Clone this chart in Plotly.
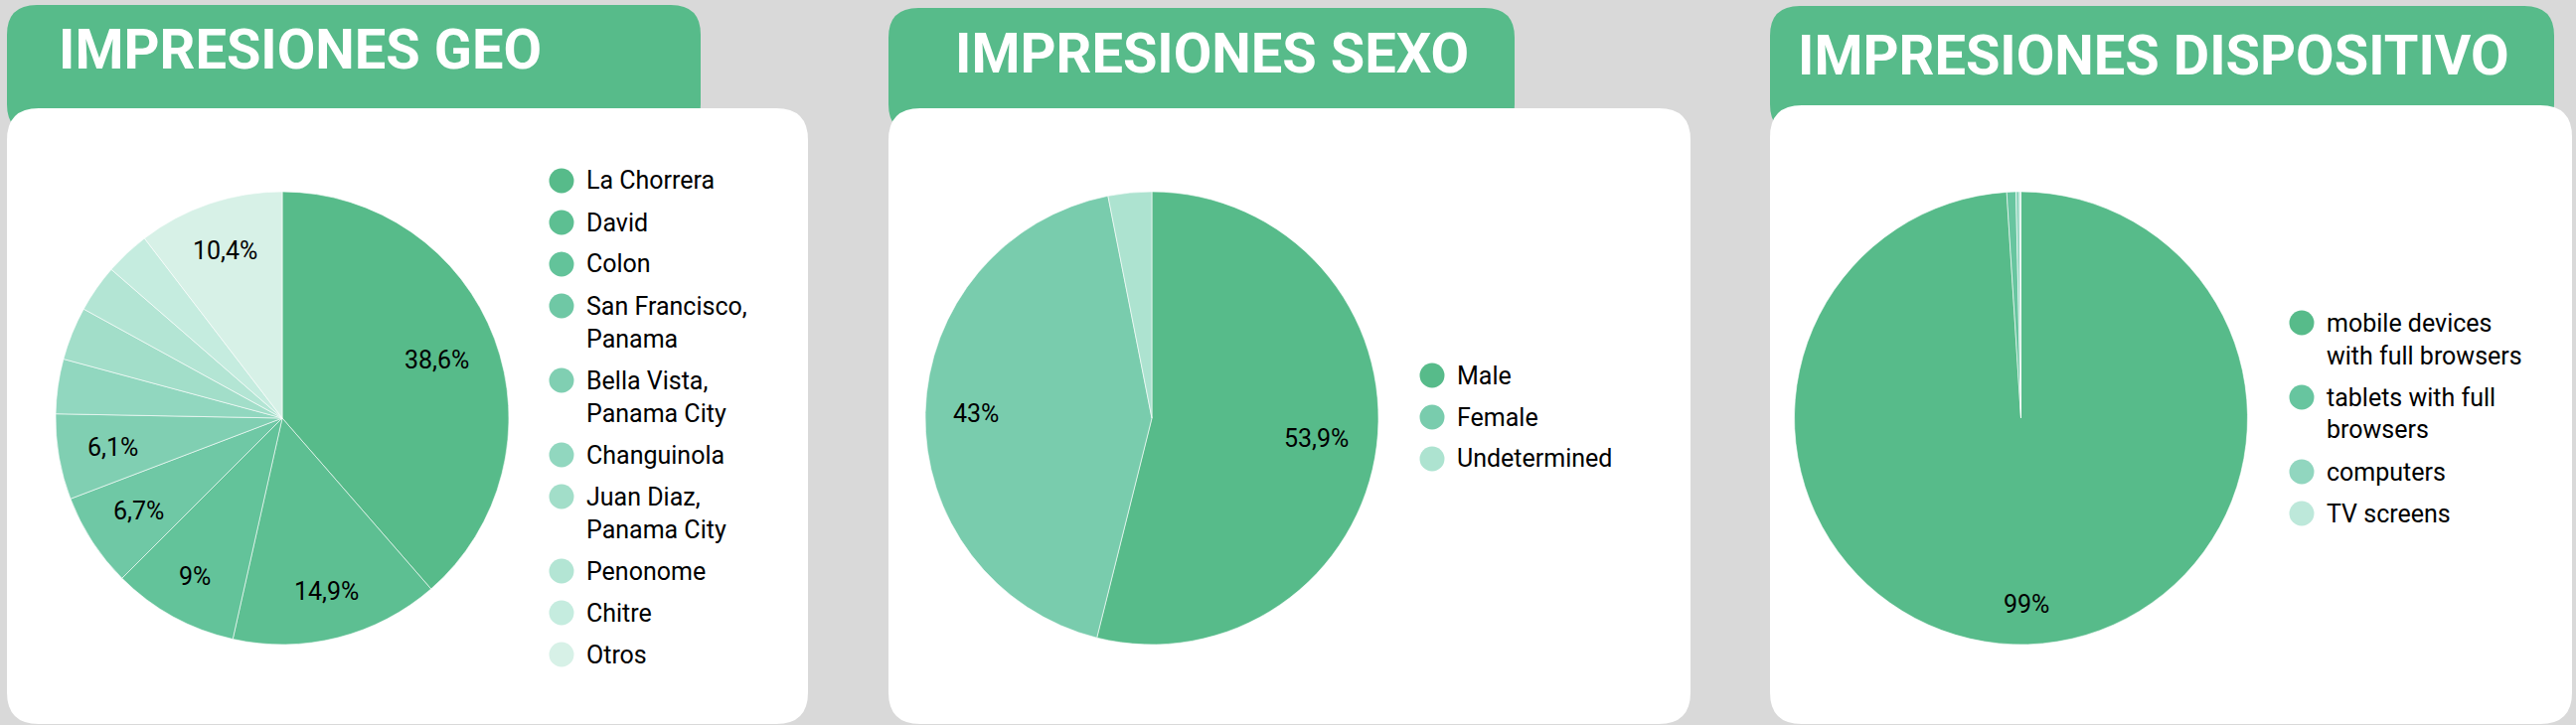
import math
import plotly.graph_objects as go

W, H = 2592, 730

# ---------------- data ----------------
geo_labels = ["La Chorrera", "David", "Colon", "San Francisco, Panama",
              "Bella Vista, Panama City", "Changuinola", "Juan Diaz, Panama City",
              "Penonome", "Chitre", "Otros"]
geo_legend = ["La Chorrera", "David", "Colon", "San Francisco,<br>Panama",
              "Bella Vista,<br>Panama City", "Changuinola", "Juan Diaz,<br>Panama City",
              "Penonome", "Chitre", "Otros"]
geo_values = [38.6, 14.9, 9.0, 6.7, 6.1, 3.9, 3.8, 3.4, 3.2, 10.4]

sexo_labels = ["Male", "Female", "Undetermined"]
sexo_legend = ["Male", "Female", "Undetermined"]
sexo_values = [53.9, 43.0, 3.1]

disp_labels = ["mobile devices with full browsers", "tablets with full browsers",
               "computers", "TV screens"]
disp_legend = ["mobile devices<br>with full browsers", "tablets with full<br>browsers",
               "computers", "TV screens"]
disp_values = [99.0, 0.65, 0.25, 0.1]

titles = ["IMPRESIONES GEO", "IMPRESIONES SEXO", "IMPRESIONES DISPOSITIVO"]

# ---------------- styles ----------------
geo_colors = ["#57bb8a", "#5dbf92", "#63c39a", "#6fc8a5", "#80cfb2",
              "#91d7bf", "#a2dec9", "#b3e5d4", "#c5ecdf", "#d7f1e7"]
sexo_colors = ["#57bb8a", "#79ccad", "#ade3d0"]
disp_colors = ["#57bb8a", "#67c59f", "#91d6bf", "#bde8da"]

BG = "#d9d9d9"
GREEN = "#57bb8a"
FONT = "Roboto"
LABEL_SIZE = 25
CHAR_W = {",": 0.196, "%": 0.733}


def px(x):
    return x / W


def py(y):
    return 1 - y / H


def rrect(x0, y0, x1, y1, r):
    X0, X1 = px(x0), px(x1)
    Y0, Y1 = py(y0), py(y1)
    rx, ry = r / W, r / H
    return (f"M{X0+rx},{Y0} L{X1-rx},{Y0} Q{X1},{Y0} {X1},{Y0-ry} "
            f"L{X1},{Y1+ry} Q{X1},{Y1} {X1-rx},{Y1} "
            f"L{X0+rx},{Y1} Q{X0},{Y1} {X0},{Y1+ry} "
            f"L{X0},{Y0-ry} Q{X0},{Y0} {X0+rx},{Y0} Z")


def pct_text(values, threshold=5.0):
    tot = sum(values)
    out = []
    for v in values:
        p = v / tot * 100
        if p < threshold:
            out.append("")
        else:
            s = f"{p:.1f}".rstrip("0").rstrip(".").replace(".", ",")
            out.append(s + "%")
    return out


panels = [
    dict(labels=geo_labels, legend=geo_legend, values=geo_values, colors=geo_colors,
         header=(7, 5, 705, 135), card=(7, 109, 813, 729), title_xy=(302, 50),
         cx=284, cy=421, leg_x=565, leg_y=182),
    dict(labels=sexo_labels, legend=sexo_legend, values=sexo_values, colors=sexo_colors,
         header=(894, 8, 1524, 135), card=(894, 109, 1701, 729), title_xy=(1219, 54),
         cx=1159, cy=421, leg_x=1441, leg_y=378),
    dict(labels=disp_labels, legend=disp_legend, values=disp_values, colors=disp_colors,
         header=(1781, 6, 2570, 135), card=(1781, 106, 2588, 729), title_xy=(2167, 56),
         cx=2033.5, cy=421, leg_x=2316, leg_y=325),
]

R = 228
fig = go.Figure()
shapes = []
annotations = []

for i, p in enumerate(panels):
    hx0, hy0, hx1, hy1 = p["header"]
    shapes.append(dict(type="path", path=rrect(hx0, hy0, hx1, hy1, 30), xref="paper", yref="paper",
                       fillcolor=GREEN, line=dict(width=0), layer="below"))
    cx0, cy0, cx1, cy1 = p["card"]
    shapes.append(dict(type="path", path=rrect(cx0, cy0, cx1, cy1, 32), xref="paper", yref="paper",
                       fillcolor="white", line=dict(width=0), layer="below"))
    tx, ty = p["title_xy"]
    annotations.append(dict(text=titles[i], x=px(tx), y=py(ty), xref="paper", yref="paper",
                            xanchor="center", yanchor="middle", showarrow=False,
                            font=dict(family=FONT, size=56, color="white", weight="bold")))

    texts = pct_text(p["values"])
    fig.add_trace(go.Pie(
        labels=p["labels"], values=p["values"], sort=False, direction="clockwise", rotation=0,
        marker=dict(colors=p["colors"], line=dict(color="white", width=0.6)),
        textinfo="none",
        domain=dict(x=[px(p["cx"] - R), px(p["cx"] + R)], y=[py(p["cy"] + R), py(p["cy"] - R)]),
        showlegend=False, hovertext=texts, hoverinfo="label+percent",
    ))

    # slice labels: placed along each slice's bisector, text box kept inside 0.88R
    tot = sum(p["values"])
    cum = 0.0
    for v, t in zip(p["values"], texts):
        mid = (cum + v / 2) / tot * 2 * math.pi
        cum += v
        if not t:
            continue
        hw = sum(CHAR_W.get(c, 0.562) for c in t) * LABEL_SIZE / 2
        hh = 0.5 * LABEL_SIZE
        s, c = math.sin(mid), math.cos(mid)
        d = 0.88 * R - (hw * abs(s) + hh * abs(c))
        lx = p["cx"] + d * s
        ly = p["cy"] - d * c
        annotations.append(dict(text=t, x=px(lx), y=py(ly), xref="paper", yref="paper",
                                xanchor="center", yanchor="middle", showarrow=False,
                                font=dict(family=FONT, size=LABEL_SIZE, color="black")))

    # legend
    y = p["leg_y"]
    for lab, col in zip(p["legend"], p["colors"]):
        r = 12.5
        shapes.append(dict(type="circle", xref="paper", yref="paper",
                           x0=px(p["leg_x"] - r), x1=px(p["leg_x"] + r),
                           y0=py(y + r), y1=py(y - r),
                           fillcolor=col, line=dict(width=0), layer="above"))
        lines = lab.split("<br>")
        for j, ln in enumerate(lines):
            annotations.append(dict(text=ln, x=px(p["leg_x"] + 23), y=py(y + j * 33),
                                    xref="paper", yref="paper", xanchor="left", yanchor="middle",
                                    showarrow=False,
                                    font=dict(family=FONT, size=25, color="#000000")))
        y += (len(lines) - 1) * 33 + 42

fig.update_layout(
    width=W, height=H, margin=dict(l=0, r=0, t=0, b=0),
    paper_bgcolor=BG, plot_bgcolor=BG,
    shapes=shapes, annotations=annotations,
    font=dict(family=FONT),
)

fig.write_html("out.html")
